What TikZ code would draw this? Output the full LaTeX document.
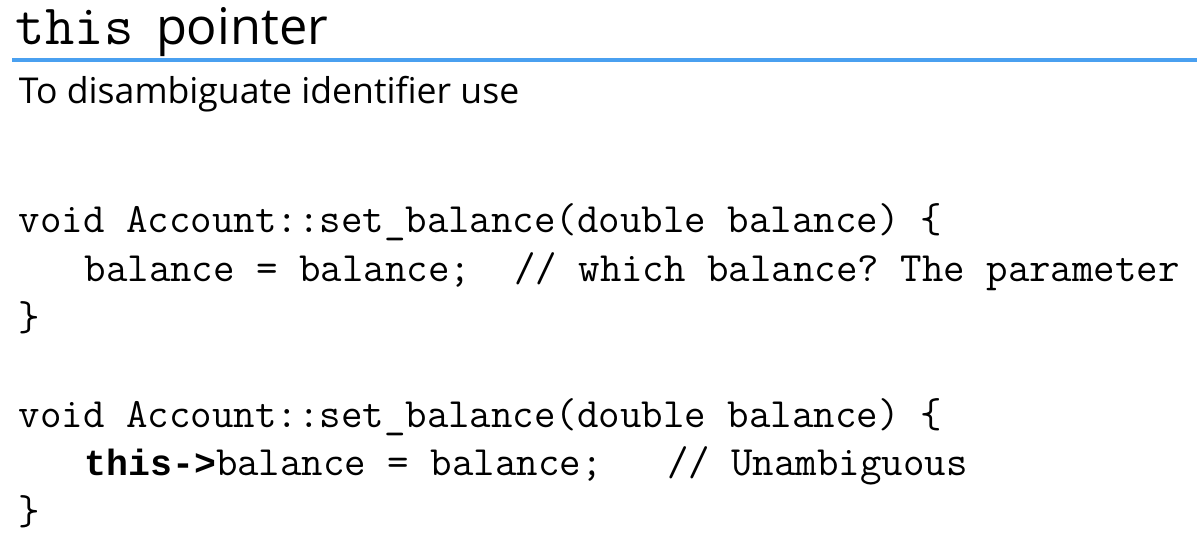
\documentclass[tikz,border=0pt]{standalone}
\usepackage{fontspec}
\setmainfont{Open Sans}
\newfontfamily\boldcode{Liberation Mono}
\definecolor{rule}{RGB}{74,160,240}
\begin{document}
\begin{tikzpicture}[x=1pt,y=1pt,
  txt/.style={inner sep=0pt,outer sep=0pt,anchor=base west,text=black},
  code/.style={txt,font=\ttfamily\fontsize{41.7}{46}\selectfont}]
\useasboundingbox[fill=white] (0,0) rectangle (1197,553);
% title
\node[txt,font=\ttfamily\fontsize{57}{60}\selectfont] (title) at (16,508) {this};
\node[txt,font=\fontsize{50.5}{56}\selectfont] (title2) at (156,508) {pointer};
\coordinate (ruleL) at (12,493);
\coordinate (ruleR) at (1197,493);
\draw[rule,line width=4pt] (ruleL) -- (ruleR);
\node[txt,font=\fontsize{35.6}{40}\selectfont] (sub) at (19,449.5) {To disambiguate identifier use};
% code block 1
\node[code] (c1) at (19,320) {void~Account::set\_balance(double~balance)~\{};
\node[code] (c2) at (84.6,271.4) {balance~=~balance;~~//~which~balance?~The~parameter};
\node[code] (c3) at (19,222.8) {\}};
% code block 2
\node[code] (d1) at (19,125.6) {void~Account::set\_balance(double~balance)~\{};
\node[code] (d2) at (84.6,77) {{\boldcode\bfseries\fontsize{36.5}{40}\selectfont this->}balance~=~balance;~~~//~Unambiguous};
\node[code] (d3) at (19,28.4) {\}};
\end{tikzpicture}
\end{document}
